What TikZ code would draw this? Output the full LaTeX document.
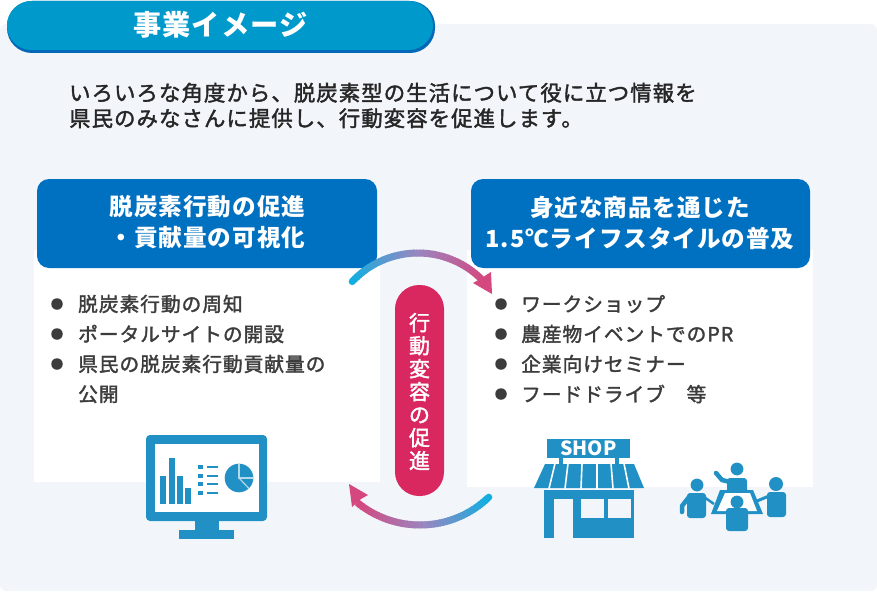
\documentclass[tikz,border=0pt]{standalone}
\usepackage{fontspec}
\setmainfont{Noto Sans CJK JP}
\newfontfamily\jpbody[LetterSpace=5,FakeBold=1.8]{Noto Sans CJK JP}
\newfontfamily\jphead[LetterSpace=4]{Noto Sans CJK JP}
\definecolor{panelbg}{HTML}{F2F6FB}
\definecolor{titleblue}{HTML}{0099CC}
\definecolor{titleedge}{HTML}{0068B7}
\definecolor{headblue}{HTML}{0070C0}
\definecolor{iconblue}{HTML}{2190C5}
\definecolor{pillred}{HTML}{D9285F}
\definecolor{inkgray}{HTML}{3C3C3C}
\definecolor{arcstart}{HTML}{12AEE0}
\definecolor{arcmid}{HTML}{9A86C0}
\definecolor{arcend}{HTML}{D4487F}
\tikzset{
	headtext/.style={text=white, font=\jphead\bfseries\fontsize{23.6}{31}\selectfont, align=center, inner sep=0pt},
	leadtext/.style={text=black!85, font=\jpbody\fontsize{21.4}{25.5}\selectfont, align=left, anchor=west, inner sep=0pt},
	itemtext/.style={text=inkgray, font=\jpbody\fontsize{19.7}{30}\selectfont, align=left, anchor=west, inner sep=0pt},
	itemdot/.style={circle, fill=inkgray, minimum size=11.5pt, inner sep=0pt},
	icon/.style={fill=iconblue, draw=none},
	iconcut/.style={fill=panelbg, draw=none}
}
\begin{document}
\begin{tikzpicture}[x=1pt, y=-1pt]
	\useasboundingbox (0,0) rectangle (877,591);
	% --- Fondo ---
	\fill[panelbg, rounded corners=6pt] (0,24) rectangle (877,591);
	\fill[white] (34,250) rectangle (380,482);
	\fill[white] (467,250) rectangle (813,487);
	\fill[headblue, rounded corners=12pt] (37,179) rectangle (377,268);
	\fill[headblue, rounded corners=12pt] (471,179) rectangle (810,268);
	
	% --- Titolo ---
	\fill[titleedge, rounded corners=25pt] (7,1) rectangle (435,53);
	\fill[titleblue, rounded corners=24.5pt] (7,1) rectangle (433,50);
	\node[text=white, inner sep=0pt, font=\jphead\bfseries\fontsize{28.2}{30}\selectfont] (title) at (220.5,25) {事業イメージ};
	\node[leadtext] (lead) at (69,105.5) {いろいろな角度から、脱炭素型の生活について役に立つ情報を\\県民のみなさんに提供し、行動変容を促進します。};
	
	% --- Intestazioni ---
	\node[headtext] (headleft) at (207.5,222.5) {脱炭素行動の促進\\・貢献量の可視化};
	\node[headtext] (headright) at (640,222.5) {身近な商品を通じた\\1.5℃ライフスタイルの普及};
	
	% --- Elenchi ---
	\foreach \y [count=\i] in {304,334,364}
		\node[itemdot] (dotl\i) at (57,\y) {};
	\foreach \y [count=\i] in {304,334,364,394}
		\node[itemdot] (dotr\i) at (501,\y) {};
	\node[itemtext] (itemla) at (78,304) {脱炭素行動の周知};
	\node[itemtext] (itemlb) at (78,334) {ポータルサイトの開設};
	\node[itemtext] (itemlc) at (78,379) {県民の脱炭素行動貢献量の\\公開};
	\node[itemtext] (itemra) at (521,304) {ワークショップ};
	\node[itemtext] (itemrb) at (521,334) {農産物イベントでのPR};
	\node[itemtext] (itemrc) at (521,364) {企業向けセミナー};
	\node[itemtext] (itemrd) at (521,394) {フードドライブ　等};
	
	% --- Pillola centrale ---
	\fill[pillred, rounded corners=24pt] (395,285) rectangle (444,496);
	\node[text=white, inner sep=0pt, align=center, font=\jpbody\fontsize{21}{23}\selectfont] (pilltext) at (419.5,391.5) {行\\動\\変\\容\\の\\促\\進};
	
	% --- Archi sfumati ---
	\foreach \i in {0,...,46}{
		\pgfmathsetmacro\p{min(\i/23,1)*100}
		\pgfmathsetmacro\q{max(\i/23-1,0)*100}
		\ifnum\i<24 \colorlet{arcnow}{arcmid!\p!arcstart}\else \colorlet{arcnow}{arcend!\q!arcmid}\fi
		\pgfmathsetmacro\a{-137+2*\i}
		\pgfmathsetmacro\b{-137+2*\i+2.6}
		\draw[arcnow, line width=7pt] ({418+90*cos(\a)},{343+90*sin(\a)}) -- ({418+90*cos(\b)},{343+90*sin(\b)});
		\pgfmathsetmacro\a{46.6+1.75*\i}
		\pgfmathsetmacro\b{46.6+1.75*\i+2.4}
		\draw[arcnow, line width=7pt] ({420+99*cos(\a)},{426+99*sin(\a)}) -- ({420+99*cos(\b)},{426+99*sin(\b)});
	}
	\fill[arcstart] (352.2,281.6) circle (3.5);
	\fill[arcstart] (488.8,497.2) circle (3.5);
	\fill[arcend] (492,294) -- (473,283) -- (480,279) -- (491,272) -- cycle;
	\fill[arcend] (349,484) -- (368,495) -- (361,499) -- (352,507) -- cycle;
	
	% --- Monitor ---
	\fill[icon, rounded corners=4pt] (146,435) rectangle (267,521);
	\fill[white] (155,444) rectangle (259,512);
	\fill[icon] (195,521) rectangle (219,530);
	\fill[icon] (179,530) rectangle (234,539);
	\foreach \xa/\ya in {160/476,169/458,177/476,185/488}
		\fill[icon] (\xa,\ya) rectangle (\xa+6,504);
	\foreach \ya in {467,476,484,493}{
		\fill[icon] (198,\ya-2) rectangle (203,\ya+2);
		\fill[icon] (207,\ya-1) rectangle (218,\ya+1);
	}
	\fill[icon] (239,478) circle (14.3);
	\draw[iconblue!35!white, line width=1.2pt] (239,463.7) -- (239,478) -- (253.3,478);
	\draw[iconblue!35!white, line width=1.2pt] (239,478) -- (249,488.5);
	
	% --- Negozio ---
	\fill[icon] (547,439) rectangle (630,458);
	\node[text=white, inner sep=0pt, font=\bfseries\fontsize{19.5}{19.5}\selectfont] (shop) at (588.5,448) {SHOP};
	\fill[icon] (559,458) rectangle (563,464);
	\fill[icon] (615,458) rectangle (619,464);
	\fill[icon] (545,464) -- (634,464) -- (644,488) -- (534,488) -- cycle;
	\foreach \xa/\xb in {555/549,568/565,582/581,597/597,611/613,624/629}
		\draw[white, line width=1.6pt] (\xa,463.5) -- (\xb,488.5);
	\fill[icon] (544,490) rectangle (634,538);
	\fill[iconcut] (554,499) rectangle (573,538);
	\fill[iconcut] (581,499) rectangle (604,518);
	\fill[iconcut] (608,499) rectangle (631,518);
	
	% --- Riunione ---
	\fill[icon] (737,469) circle (6.4);
	\fill[icon, rounded corners=3pt] (727,478) rectangle (747,495);
	\draw[iconblue, line width=4.5pt, line cap=round] (716,473) -- (722,480) -- (730,482);
	\fill[icon] (720,490) -- (753,490) -- (763,514) -- (711,514) -- cycle;
	\fill[white] (725,493) -- (750,493) -- (757,511) -- (717,511) -- cycle;
	\fill[icon] (697,485) circle (6.4);
	\fill[icon, rounded corners=3pt] (687,493) rectangle (706,518);
	\draw[iconblue, line width=4.5pt, line cap=round] (682,512) -- (682,506) -- (689,497);
	\draw[iconblue, line width=2.5pt] (704,497) -- (714,504);
	\fill[icon] (776,484) circle (7);
	\fill[icon, rounded corners=3pt] (767,492) rectangle (786,517);
	\draw[iconblue, line width=3pt] (769,496) -- (757,501);
	\fill[white] (737,502) circle (8);
	\fill[icon] (737,502) circle (6.4);
	\fill[icon, rounded corners=3pt] (726,508) -- (748,508) -- (748,531) -- (726,531) -- cycle;
\end{tikzpicture}
\end{document}
